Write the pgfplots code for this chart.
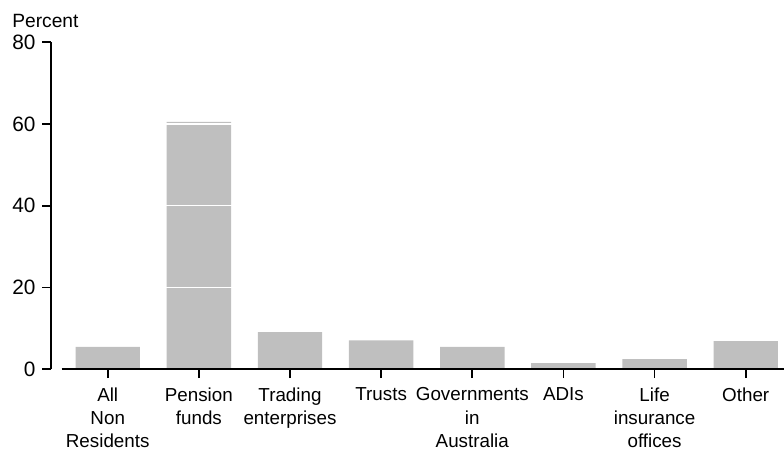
\documentclass[border=0pt]{standalone}
\usepackage{pgfplots}
\pgfplotsset{compat=1.18}
\usepackage{fontspec}
\setmainfont{Liberation Sans}
\definecolor{bargrey}{RGB}{191,191,191}
\begin{document}
\begin{tikzpicture}
\begin{axis}[
  name=ax,
  scale only axis,
  width=361.15pt, height=163.5pt,
  xmin=-0.505, xmax=7.42,
  ymin=0, ymax=80,
  axis x line*=bottom,
  axis y line*=left,
  axis y line shift=5.2pt,
  ytick={0,20,40,60,80},
  xtick={0,1,2,3,4,5,6,7},
  xticklabels={{All\\Non\\Residents},{Pension\\funds},{Trading\\enterprises},{Trusts},{Governments\\in\\Australia},{ADIs},{Life\\insurance\\offices},{Other}},
  x tick label style={align=center, font=\fontsize{9.4}{11.67}\selectfont, yshift=-1.2pt},
  y tick label style={font=\fontsize{10.4}{12}\selectfont},
  /pgf/number format/assume math mode=true,
  tick align=outside,
  major tick length=4.4pt,
  tick style={black, line width=0.8pt},
  axis line style={black, line width=0.9pt},
  ymajorgrids,
  grid style={white, line width=0.7pt},
  axis on top,
  clip=false,
]
\addplot[ybar, bar width=0.707, fill=bargrey, draw=none] coordinates {
  (0,5.5) (1,60.5) (2,9.1) (3,7.1) (4,5.5) (5,1.5) (6,2.5) (7,6.9)
};
\end{axis}
\node[anchor=base west, inner sep=0pt, font=\fontsize{9.6}{11}\selectfont] at ([shift={(-24.9pt,7.5pt)}]ax.north west) {Percent};
\pgfresetboundingbox
\path[use as bounding box] ([shift={(-30.85pt,-41.65pt)}]ax.south west) rectangle ([shift={(0pt,21.15pt)}]ax.north east);
\end{tikzpicture}
\end{document}
